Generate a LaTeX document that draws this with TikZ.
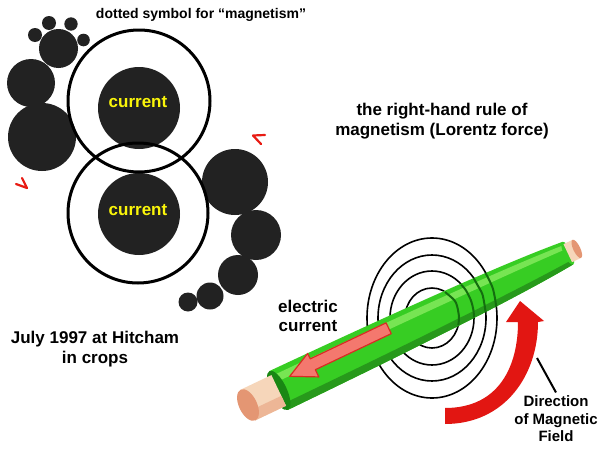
\documentclass[tikz,border=0pt]{standalone}
\usepackage{fontspec}
\setmainfont{Liberation Sans}
\definecolor{blobgray}{RGB}{34,34,34}
\definecolor{markred}{RGB}{232,28,20}
\definecolor{labelyellow}{RGB}{250,245,10}
\definecolor{rodgreen}{RGB}{55,205,35}
\definecolor{rodlight}{RGB}{119,229,83}
\definecolor{rodshadow}{RGB}{39,153,27}
\definecolor{roddark}{RGB}{25,135,20}
\definecolor{groovegreen}{RGB}{20,110,15}
\definecolor{copperface}{RGB}{228,150,115}
\definecolor{coppermid}{RGB}{237,182,150}
\definecolor{copperlight}{RGB}{246,214,186}
\definecolor{arrowpink}{RGB}{244,120,110}
\definecolor{arrowred}{RGB}{215,45,35}
\definecolor{fieldred}{RGB}{226,22,18}
\tikzset{
	blob/.style={fill=blobgray},
	ring/.style={draw=black, line width=3},
	turnmark/.style={draw=markred, line width=2.2, line cap=round, line join=round},
	fieldline/.style={draw=black, line width=1.6},
	groove/.style={draw=groovegreen, line width=2},
	bigtext/.style={align=center, font=\bfseries\fontsize{17}{19.5}\selectfont},
	smalltext/.style={align=center, font=\bfseries\fontsize{14}{17.5}\selectfont},
	pointer/.style={draw=black, line width=2}
}
\begin{document}
\begin{tikzpicture}[x=1pt,y=-1pt]
	\useasboundingbox (0,0) rectangle (600,450);
	\fill[white] (0,0) rectangle (600,450);

	\foreach \x/\y/\r in {35/35/7, 49/23/7, 71/24/6.7, 83.5/40/6.3, 58.5/48.5/19.5, 31/83/24, 42/137/34,
		235/182/33, 256/235/25, 238/275/20, 210/296/13.5, 188/302/9.5}
		\fill[blob] (\x,\y) circle [radius=\r];

	\fill[blob] (139,108) circle [radius=41];
	\fill[blob] (139,214) circle [radius=41];
	\draw[ring] (139,101) circle [radius=71];
	\draw[ring] (138,213) circle [radius=70];

	\draw[turnmark] (16,184) -- (27,188) -- (22,178);
	\draw[turnmark] (265,135) -- (253,135.5) -- (261,144);

	\node[bigtext, text=labelyellow] (topcurrent) at (138,102) {current};
	\node[bigtext, text=labelyellow] (bottomcurrent) at (138,210) {current};
	\node[smalltext] (symbolnote) at (201,15) {dotted symbol for “magnetism”};
	\node[bigtext] (rulenote) at (442,121) {the right-hand rule of\\magnetism (Lorentz force)};
	\node[bigtext] (placenote) at (95,349) {July 1997 at Hitcham\\in crops};
	\node[bigtext] (currentlbl) at (308,316) {electric\\current};

	\foreach \rx/\ry in {65/80, 54/63, 42/47, 27/30}
		\draw[fieldline] (432,318) ellipse [x radius=\rx, y radius=\ry];

	\begin{scope}[shift={(248,405)}, rotate=25.4]
		\fill[rodgreen] (34,-21.5) .. controls (200,-20.5) and (300,-17.5) .. (354,-12.5)
			-- (354,12.5) .. controls (300,17.5) and (200,20.5) .. (34,21.5) -- cycle;
		\fill[rodlight] (34,-16) .. controls (200,-15.2) and (300,-13) .. (354,-9)
			-- (354,-4.5) .. controls (300,-6.5) and (200,-7.8) .. (34,-8.5) -- cycle;
		\fill[rodshadow] (34,14) .. controls (200,13.4) and (300,11.2) .. (354,8)
			-- (354,12.5) .. controls (300,17.5) and (200,20.5) .. (34,21.5) -- cycle;
		\fill[rodgreen] (354,0) ellipse [x radius=4, y radius=12.5];
		\fill[roddark] (34,0) ellipse [x radius=8, y radius=21.5];
		\fill[copperlight] (0,-17) rectangle (34,17);
		\fill[coppermid] (0,6) rectangle (34,17);
		\fill[copperface] (0,0) ellipse [x radius=9, y radius=17];
		\fill[copperlight] (354,-10) rectangle (364,10);
		\fill[copperface] (364,0) ellipse [x radius=3.5, y radius=10];
		\filldraw[fill=arrowpink, draw=arrowred, line width=1.2, line join=round]
			(50,-8) -- (76,-21) -- (76,-15) -- (160,-15) -- (160,-3) -- (76,-3) -- (76,5) -- cycle;
	\end{scope}

	\draw[groove] plot[smooth] coordinates {(485.5,273) (489.2,280) (492.9,288.7) (495.3,300) (496.2,307)};
	\draw[groove] plot[smooth] coordinates {(473.5,278) (477.5,285) (482.3,294) (484.4,304) (485.6,312)};
	\draw[groove] plot[smooth] coordinates {(461,284.5) (465.7,290) (470.8,300) (473.4,310) (474,317.5)};
	\draw[groove] plot[smooth] coordinates {(445,292) (454.2,300) (457.1,306) (459,317) (458.3,325)};

	\fill[fieldred] (445,424) .. controls (505,424) and (538,375) .. (538,322) -- (544,321) -- (520,301)
		-- (506,322) -- (518,322) .. controls (518,365) and (500,408) .. (445,408) -- cycle;

	\node[smalltext, font=\bfseries\fontsize{15}{17.5}\selectfont] (fieldlbl) at (556,419) {Direction\\of Magnetic\\Field};
	\coordinate (fieldtip) at (537,358);
	\draw[pointer] (fieldlbl.north) -- (fieldtip);
\end{tikzpicture}
\end{document}
